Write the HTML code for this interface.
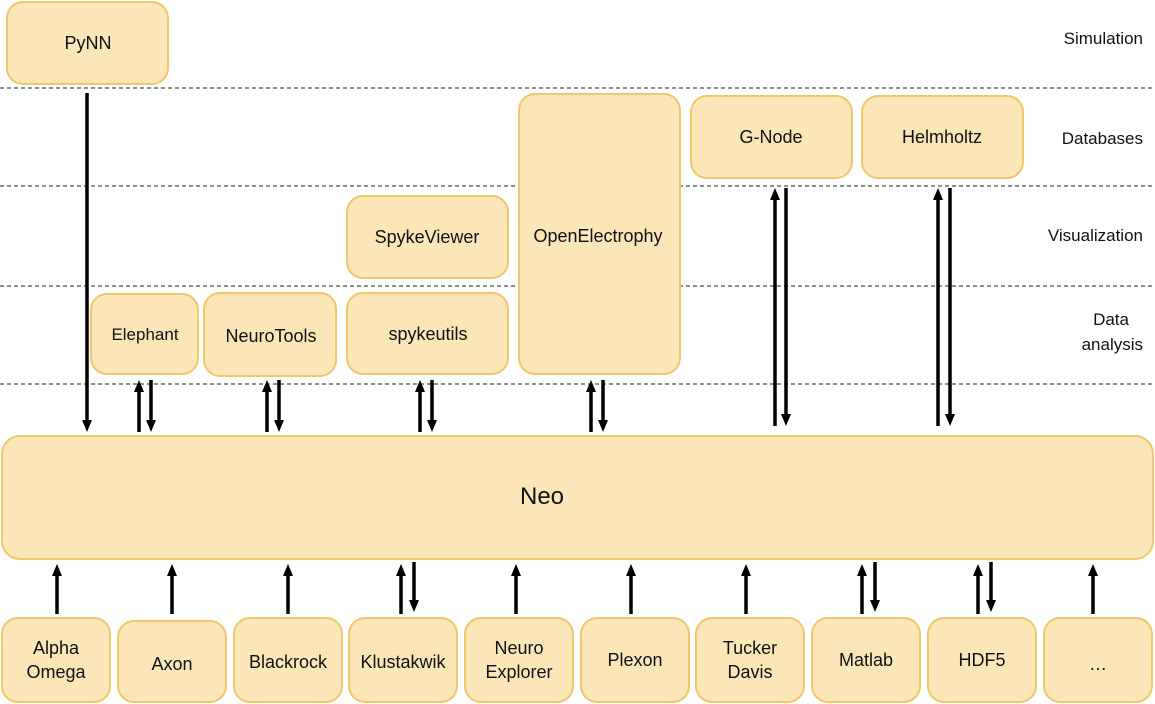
<!DOCTYPE html>
<html><head><meta charset="utf-8"><style>
html,body{margin:0;padding:0;background:#fff;width:1155px;height:704px;overflow:hidden}
text{font-family:"Liberation Sans",sans-serif;fill:#111}
</style></head><body>
<svg width="1155" height="704" viewBox="0 0 1155 704" xmlns="http://www.w3.org/2000/svg">
<defs>
<marker id="ah" markerWidth="8" markerHeight="8" refX="4" refY="6" orient="auto" markerUnits="userSpaceOnUse" viewBox="0 0 8 8">
</marker>
</defs>
<g stroke="#222" stroke-width="1" stroke-dasharray="4,3">
<line x1="0" y1="88" x2="1155" y2="88"/>
<line x1="0" y1="186" x2="1155" y2="186"/>
<line x1="0" y1="286" x2="1155" y2="286"/>
<line x1="0" y1="384" x2="1155" y2="384"/>
</g>
<g fill="#fae6b6" stroke="#f2c66a" stroke-width="2">
<rect x="7" y="2" width="161" height="82" rx="16"/>
<rect x="691" y="96" width="161" height="82" rx="16"/>
<rect x="862" y="96" width="161" height="82" rx="16"/>
<rect x="519" y="94" width="161" height="280" rx="16"/>
<rect x="347" y="196" width="161" height="82" rx="16"/>
<rect x="91" y="294" width="107" height="80" rx="16"/>
<rect x="204" y="293" width="132" height="83" rx="16"/>
<rect x="347" y="293" width="161" height="81" rx="16"/>
<rect x="2" y="436" width="1151" height="123" rx="18"/>
<rect x="2" y="618" width="108" height="84" rx="16"/>
<rect x="118" y="621" width="108" height="81" rx="16"/>
<rect x="234" y="618" width="108" height="84" rx="16"/>
<rect x="349" y="618" width="108" height="84" rx="16"/>
<rect x="465" y="618" width="108" height="84" rx="16"/>
<rect x="581" y="618" width="108" height="84" rx="16"/>
<rect x="696" y="618" width="108" height="84" rx="16"/>
<rect x="812" y="618" width="108" height="84" rx="16"/>
<rect x="928" y="618" width="108" height="84" rx="16"/>
<rect x="1044" y="618" width="108" height="84" rx="16"/>
</g>
<g stroke="#000" stroke-width="3.5" fill="none">
<!-- down arrows: line -->
<line x1="87" y1="93" x2="87" y2="422"/>
<line x1="151" y1="380" x2="151" y2="422"/>
<line x1="279" y1="380" x2="279" y2="422"/>
<line x1="432" y1="380" x2="432" y2="422"/>
<line x1="603" y1="380" x2="603" y2="422"/>
<line x1="786" y1="188" x2="786" y2="416"/>
<line x1="950" y1="188" x2="950" y2="416"/>
<line x1="414" y1="562" x2="414" y2="602"/>
<line x1="875" y1="562" x2="875" y2="602"/>
<line x1="991" y1="562" x2="991" y2="602"/>
<!-- up arrows -->
<line x1="139" y1="432" x2="139" y2="390"/>
<line x1="267" y1="432" x2="267" y2="390"/>
<line x1="420" y1="432" x2="420" y2="390"/>
<line x1="591" y1="432" x2="591" y2="390"/>
<line x1="775" y1="426" x2="775" y2="198"/>
<line x1="938" y1="426" x2="938" y2="198"/>
<line x1="57" y1="614" x2="57" y2="574"/>
<line x1="172" y1="614" x2="172" y2="574"/>
<line x1="288" y1="614" x2="288" y2="574"/>
<line x1="401" y1="614" x2="401" y2="574"/>
<line x1="516" y1="614" x2="516" y2="574"/>
<line x1="631" y1="614" x2="631" y2="574"/>
<line x1="746" y1="614" x2="746" y2="574"/>
<line x1="862" y1="614" x2="862" y2="574"/>
<line x1="978" y1="614" x2="978" y2="574"/>
<line x1="1093" y1="614" x2="1093" y2="574"/>
</g>
<g fill="#000">
<!-- down heads -->
<path d="M82,420 L92,420 L87,432Z"/>
<path d="M146,420 L156,420 L151,432Z"/>
<path d="M274,420 L284,420 L279,432Z"/>
<path d="M427,420 L437,420 L432,432Z"/>
<path d="M598,420 L608,420 L603,432Z"/>
<path d="M781,414 L791,414 L786,426Z"/>
<path d="M945,414 L955,414 L950,426Z"/>
<path d="M409,600 L419,600 L414,612Z"/>
<path d="M870,600 L880,600 L875,612Z"/>
<path d="M986,600 L996,600 L991,612Z"/>
<!-- up heads -->
<path d="M134,392 L144,392 L139,380Z"/>
<path d="M262,392 L272,392 L267,380Z"/>
<path d="M415,392 L425,392 L420,380Z"/>
<path d="M586,392 L596,392 L591,380Z"/>
<path d="M770,200 L780,200 L775,188Z"/>
<path d="M933,200 L943,200 L938,188Z"/>
<path d="M52,576 L62,576 L57,564Z"/>
<path d="M167,576 L177,576 L172,564Z"/>
<path d="M283,576 L293,576 L288,564Z"/>
<path d="M396,576 L406,576 L401,564Z"/>
<path d="M511,576 L521,576 L516,564Z"/>
<path d="M626,576 L636,576 L631,564Z"/>
<path d="M741,576 L751,576 L746,564Z"/>
<path d="M857,576 L867,576 L862,564Z"/>
<path d="M973,576 L983,576 L978,564Z"/>
<path d="M1088,576 L1098,576 L1093,564Z"/>
</g>
<g font-size="18" text-anchor="middle">
<text x="88" y="49">PyNN</text>
<text x="771" y="143">G-Node</text>
<text x="942" y="143">Helmholtz</text>
<text x="598" y="242">OpenElectrophy</text>
<text x="427" y="243">SpykeViewer</text>
<text x="145" y="340" font-size="17">Elephant</text>
<text x="271" y="342">NeuroTools</text>
<text x="428" y="340">spykeutils</text>
<text x="542" y="504" font-size="24">Neo</text>
<text x="56" y="654">Alpha</text>
<text x="56" y="678">Omega</text>
<text x="172" y="670">Axon</text>
<text x="288" y="668">Blackrock</text>
<text x="403" y="668">Klustakwik</text>
<text x="519" y="654">Neuro</text>
<text x="519" y="678">Explorer</text>
<text x="635" y="666">Plexon</text>
<text x="750" y="654">Tucker</text>
<text x="750" y="678">Davis</text>
<text x="866" y="666">Matlab</text>
<text x="982" y="666">HDF5</text>
<text x="1098" y="670">…</text>
</g>
<g font-size="17" text-anchor="end">
<text x="1143" y="44">Simulation</text>
<text x="1143" y="144">Databases</text>
<text x="1143" y="241">Visualization</text>
<text x="1129" y="325">Data</text>
<text x="1143" y="350">analysis</text>
</g>
</svg>
</body></html>
